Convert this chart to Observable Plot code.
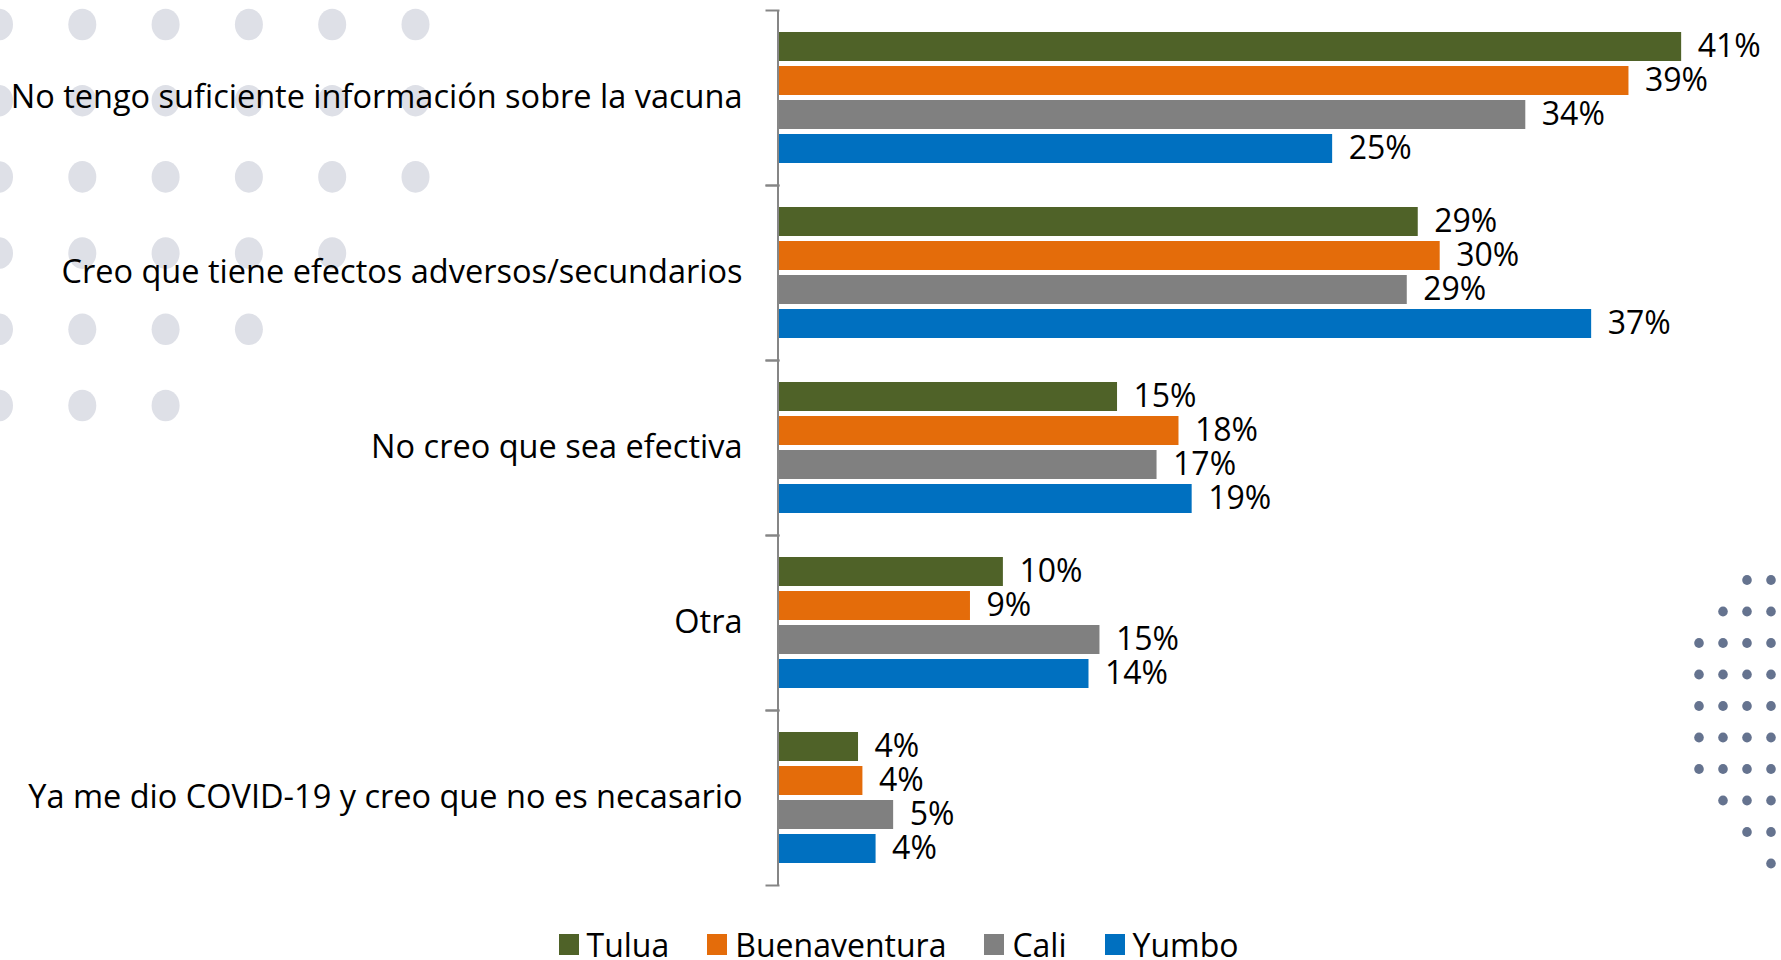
<!DOCTYPE html>
<html><head><meta charset="utf-8">
<script src="https://cdn.jsdelivr.net/npm/d3@7"></script>
<script src="https://cdn.jsdelivr.net/npm/@observablehq/plot@0.6"></script>
<style>
html,body{margin:0;padding:0;background:#fff;overflow:hidden;}
#wrap{position:relative;width:1781px;height:960px;}
#deco{position:absolute;left:0;top:0;}
#chart{position:relative;}
#legend{position:relative;margin-top:29.5px;width:1781px;}
.lg-swatches{font-family:"Open Sans",sans-serif;font-size:32px;line-height:30px;min-height:30px !important;color:#000;justify-content:center;margin:0 !important;padding-left:16px;box-sizing:border-box;}
.lg-swatch{margin-right:38px !important;}
.lg-swatch:last-child{margin-right:0 !important;}
.lg-swatch > svg{margin-right:8px !important;}
</style>
</head><body>
<div id="wrap"><svg id="deco" width="1781" height="960"></svg><div id="chart"></div><div id="legend"></div></div>
<script>
// ---- data (labels are rounded) ----
const categories = [
  "No tengo suficiente información sobre la vacuna",
  "Creo que tiene efectos adversos/secundarios",
  "No creo que sea efectiva",
  "Otra",
  "Ya me dio COVID-19 y creo que no es necasario"
];
const cities = ["Tulua", "Buenaventura", "Cali", "Yumbo"];
const tulua = [41.1, 29.1, 15.4, 10.2, 3.6];
const buenaventura = [38.7, 30.1, 18.2, 8.7, 3.8];
const cali = [34.0, 28.6, 17.2, 14.6, 5.2];
const yumbo = [25.2, 37.0, 18.8, 14.1, 4.4];
const cityColors = ["#4F6228", "#E46C0A", "#808080", "#0070C0"];

const series = [tulua, buenaventura, cali, yumbo];
const rows = [];
categories.forEach((c, i) => cities.forEach((city, j) => rows.push({category: c, city, value: series[j][i]})));

// ---- decorative dot pattern (background, not data) ----
const deco = d3.select("#deco");
const leftRows = [6, 6, 6, 5, 4, 3]; // dots per row
leftRows.forEach((n, r) => {
  for (let k = 0; k < n; k++) deco.append("ellipse")
    .attr("cx", -1 + k * 83.3).attr("cy", 24.5 + r * 76.2).attr("rx", 14).attr("ry", 15.8).attr("fill", "#DEE0E7");
});
const rightRows = [[2,3],[1,2,3],[0,1,2,3],[0,1,2,3],[0,1,2,3],[0,1,2,3],[0,1,2,3],[1,2,3],[2,3],[3]];
rightRows.forEach((ks, r) => ks.forEach(k => deco.append("ellipse")
  .attr("cx", 1699 + k * 24).attr("cy", 580 + r * 31.5).attr("rx", 4.8).attr("ry", 5.1).attr("fill", "#65738F")));

// ---- chart ----
const axisColor = "#868686";
const plot = Plot.plot({
  width: 1781,
  height: 900,
  marginLeft: 779,
  marginRight: 14.25,
  marginTop: 8,
  marginBottom: 14,
  style: {fontFamily: "'Open Sans', sans-serif", fontSize: "32.5px", color: "#000", background: "transparent"},
  x: {domain: [0, 45], axis: null},
  y: {domain: cities, axis: null, paddingInner: 0.157, paddingOuter: 0.63},
  fy: {domain: categories, padding: 0, axis: "left", label: null, tickSize: 0, tickPadding: 37},
  color: {domain: cities, range: cityColors},
  marks: [
    Plot.barX(rows, {x: "value", y: "city", fy: "category", fill: "city"}),
    Plot.text(rows, {x: "value", y: "city", fy: "category", text: d => Math.round(d.value) + "%", textAnchor: "start", dx: 16, fill: "#000", fontSize: 32}),
    Plot.ruleX([0], {stroke: axisColor, strokeWidth: 2, dx: -1.5}),
    Plot.frame({anchor: "top", stroke: axisColor, strokeWidth: 2, insetLeft: -13, insetRight: 988.75}),
    Plot.frame({anchor: "bottom", stroke: axisColor, strokeWidth: 2, insetLeft: -13, insetRight: 988.75})
  ]
});
document.getElementById("chart").appendChild(plot);
document.getElementById("legend").appendChild(plot.legend("color", {className: "lg", swatchWidth: 20, swatchHeight: 21}));
</script>
</body></html>
